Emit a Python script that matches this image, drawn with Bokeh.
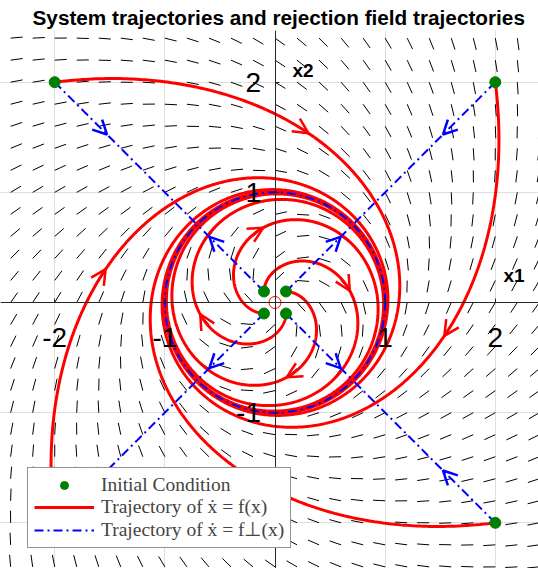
import numpy as np
from bokeh.plotting import figure
from bokeh.models import (LinearAxis, FixedTicker, Grid, Range1d, Legend, LegendItem,
                          Arrow, OpenHead, ColumnDataSource, Label)
from bokeh.embed import file_html
from bokeh.resources import INLINE

# ---- data -------------------------------------------------------------
outer_x0 = [-2.0, 2.0, 2.0, -2.0]
outer_y0 = [2.0, 2.0, -2.0, -2.0]
inner_x0 = [-0.1, 0.1, 0.1, -0.1]
inner_y0 = [0.1, 0.1, -0.1, -0.1]
tick_vals = [-2, -1, 1, 2]
tick_labels = ["-2", "-1", "1", "2"]
t_end = 12.0            # integration horizon
t_arrow_outer = 0.98    # where the arrow heads sit on the trajectories
t_arrow_inner = 2.2
t_arrow_perp_outer = 0.38
t_arrow_perp_inner = 3.0

# ---- system -----------------------------------------------------------
def f(x1, x2):
    r2 = x1 * x1 + x2 * x2
    k = (r2 - 1.0) / (r2 + 1.0)
    return x2 - k * x1, -x1 - k * x2

def f_perp(x1, x2):
    r2 = x1 * x1 + x2 * x2
    k = (r2 - 1.0) / (r2 + 1.0)
    return -k * x1, -k * x2

def integrate(fun, x0, y0, T, dt=0.01):
    xs, ys = [x0], [y0]
    x, y = x0, y0
    for _ in range(int(round(T / dt))):
        a1, b1 = fun(x, y)
        a2, b2 = fun(x + 0.5 * dt * a1, y + 0.5 * dt * b1)
        a3, b3 = fun(x + 0.5 * dt * a2, y + 0.5 * dt * b2)
        a4, b4 = fun(x + dt * a3, y + dt * b3)
        x += dt / 6 * (a1 + 2 * a2 + 2 * a3 + a4)
        y += dt / 6 * (b1 + 2 * b2 + 2 * b3 + b4)
        xs.append(x); ys.append(y)
    return np.array(xs), np.array(ys)

# ---- figure -----------------------------------------------------------
SCALE = 110.15
W, H, TOP = 538, 568, 30
x_lo = -274.5 / SCALE
y_hi = 272.0 / SCALE
p = figure(width=W, height=H, output_backend="svg", toolbar_location=None,
           x_axis_location=None, y_axis_location=None, min_border=0, min_border_top=TOP,
           x_range=Range1d(x_lo, x_lo + W / SCALE),
           y_range=Range1d(y_hi - (H - TOP) / SCALE, y_hi),
           title="System trajectories and rejection field trajectories")
p.outline_line_color = None
p.title.align = "left"
p.title.offset = 32
p.title.vertical_align = "bottom"
p.title.text_font = "Liberation Sans"
p.title.text_font_size = "20.75px"
p.title.text_font_style = "bold"
p.title.text_color = "black"
p.title.standoff = 3

for dim in (0, 1):
    p.add_layout(Grid(dimension=dim, ticker=FixedTicker(ticks=[-2, -1, 0, 1, 2]),
                      grid_line_color="#dedede", grid_line_width=1))

# direction field (normalised segments)
g = np.round(np.arange(-2.4, 2.4001, 0.2), 6)
GX, GY = np.meshgrid(g, g)
GX, GY = GX.ravel(), GY.ravel()
U, V = f(GX, GY)
N = np.hypot(U, V)
keep = N > 1e-9
L = 0.11
p.segment(GX[keep], GY[keep], GX[keep] + L * U[keep] / N[keep], GY[keep] + L * V[keep] / N[keep],
          line_color="black", line_width=1)

# trajectories of f
red_r = None
arrows_red = dict(xs=[], ys=[], xe=[], ye=[])
dt = 0.01
for (x0s, y0s, ta) in ((outer_x0, outer_y0, t_arrow_outer), (inner_x0, inner_y0, t_arrow_inner)):
    for x0, y0 in zip(x0s, y0s):
        xs, ys = integrate(f, x0, y0, t_end, dt)
        red_r = p.line(xs, ys, line_color="#ff0000", line_width=3)
        i = int(round(ta / dt))
        arrows_red["xs"].append(xs[i - 5]); arrows_red["ys"].append(ys[i - 5])
        arrows_red["xe"].append(xs[i]); arrows_red["ye"].append(ys[i])

# trajectories of f_perp
arrows_blue = dict(xs=[], ys=[], xe=[], ye=[])
blue_r = None
DASH = "9 4 2 4"
for (x0s, y0s, ta) in ((outer_x0, outer_y0, t_arrow_perp_outer), (inner_x0, inner_y0, t_arrow_perp_inner)):
    for x0, y0 in zip(x0s, y0s):
        xs, ys = integrate(f_perp, x0, y0, t_end, dt)
        blue_r = p.line(xs, ys, line_color="#0000ff", line_width=2, line_dash=DASH)
        i = int(round(ta / dt))
        arrows_blue["xs"].append(xs[i - 5]); arrows_blue["ys"].append(ys[i - 5])
        arrows_blue["xe"].append(xs[i]); arrows_blue["ye"].append(ys[i])

# limit cycle (unit circle)
th = np.linspace(0, 2 * np.pi, 400)
p.line(np.cos(th), np.sin(th), line_color="#0000ff", line_width=2, line_dash=DASH)

p.add_layout(Arrow(end=OpenHead(size=15, line_color="#ff0000", line_width=2.5),
                   source=ColumnDataSource(arrows_red), x_start="xs", y_start="ys",
                   x_end="xe", y_end="ye", line_alpha=0))
p.add_layout(Arrow(end=OpenHead(size=14, line_color="#0000ff", line_width=2.5),
                   source=ColumnDataSource(arrows_blue), x_start="xs", y_start="ys",
                   x_end="xe", y_end="ye", line_alpha=0))

# equilibrium and initial conditions
p.scatter([0], [0], size=12, marker="circle", fill_color=None, line_color="#ff0000", line_width=1)
ic_r = p.scatter(outer_x0 + inner_x0, outer_y0 + inner_y0, size=11, marker="circle",
                 fill_color="#008000", line_color="#008000")

# axes through the origin
xa = LinearAxis(fixed_location=0, ticker=FixedTicker(ticks=tick_vals),
                major_label_overrides={v: s for v, s in zip(tick_vals, tick_labels)})
ya = LinearAxis(fixed_location=0, ticker=FixedTicker(ticks=tick_vals),
                major_label_overrides={v: s for v, s in zip(tick_vals, tick_labels)})
for ax, so in ((xa, 25), (ya, 14)):
    ax.axis_line_color = "#262626"
    ax.axis_line_width = 1
    ax.major_tick_line_color = "#262626"
    ax.major_tick_in = 4
    ax.major_tick_out = 0
    ax.minor_tick_line_color = None
    ax.major_label_text_font = "Liberation Sans"
    ax.major_label_text_font_size = "28px"
    ax.major_label_text_color = "black"
    ax.major_label_standoff = so
p.add_layout(xa, "below")
p.add_layout(ya, "left")

for txt, lx, ly in (("x1", 2.17, 0.245), ("x2", 0.254, 2.11)):
    p.add_layout(Label(x=lx, y=ly, text=txt, text_font="Liberation Sans", text_font_size="19px",
                       text_font_style="bold", text_align="center", text_baseline="middle",
                       text_color="black"))

legend = Legend(items=[LegendItem(label="Initial Condition", renderers=[ic_r]),
                       LegendItem(label="Trajectory of ẋ = f(x)", renderers=[red_r]),
                       LegendItem(label="Trajectory of ẋ = f⊥(x)", renderers=[blue_r])],
                location=(27, 20), label_text_font="Liberation Serif", label_text_font_size="19.5px",
                glyph_width=60, glyph_height=20, label_height=22, label_standoff=7,
                spacing=0, padding=6, margin=0, border_line_color="#262626", border_line_width=1,
                background_fill_color="white", background_fill_alpha=1)
p.add_layout(legend)

open("out.html", "w").write(file_html(p, INLINE))
